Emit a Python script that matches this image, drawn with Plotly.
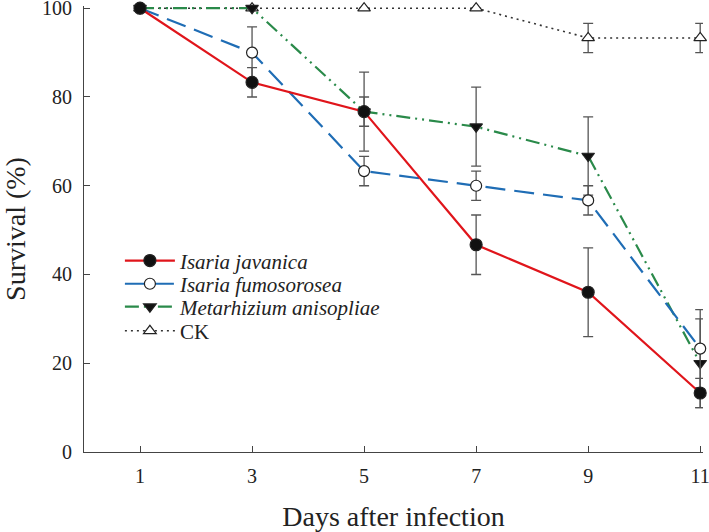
import plotly.graph_objects as go

days = [1, 3, 5, 7, 9, 11]
tick_vals = [1, 3, 5, 7, 9, 11]
y_ticks = [0, 20, 40, 60, 80, 100]

javanica = [100, 83.3, 76.7, 46.7, 36.0, 13.3]
javanica_err = [0, 3.3, 8.9, 6.7, 10.0, 3.3]
fumosorosea = [100, 90.0, 63.3, 60.0, 56.7, 23.3]
fumosorosea_err = [0, 5.8, 3.3, 3.3, 3.3, 8.8]
metarhizium = [100, 100, 76.7, 73.3, 66.7, 20.0]
metarhizium_err = [0, 0, 3.3, 8.9, 8.8, 10.0]
ck = [100, 100, 100, 100, 93.3, 93.3]
ck_err = [0, 0, 0, 0, 3.3, 3.3]

names = ["<i>Isaria javanica</i>", "<i>Isaria fumosorosea</i>",
         "<i>Metarhizium anisopliae</i>", "CK"]

FONT = "Liberation Serif, Times New Roman, serif"
ERR_COLOR = "#555555"

fig = go.Figure()

def add(y, err, name, color, dash, symbol, mcolor, width, size, legend):
    fig.add_trace(go.Scatter(
        x=days, y=y, name=name, mode="lines+markers", legend=legend,
        line=dict(color=color, dash=dash, width=width),
        marker=dict(symbol=symbol, size=size, color=mcolor,
                    line=dict(color="#222222", width=1.2)),
        error_y=dict(type="data", array=err, visible=True,
                     color=ERR_COLOR, thickness=1.3, width=5),
        cliponaxis=False,
    ))

add(ck, ck_err, names[3], "#333333", "2px,4px", "triangle-up", "white",
    1.6, 11, "legend4")
add(metarhizium, metarhizium_err, names[2], "#2a8a4a",
    "14px,5px,2px,5px,2px,5px", "triangle-down", "#111111", 2.2, 11,
    "legend3")
add(fumosorosea, fumosorosea_err, names[1], "#1f6db5", "20px,9px",
    "circle", "white", 2.2, 11, "legend2")
add(javanica, javanica_err, names[0], "#e0151b", "solid",
    "circle", "#111111", 2.2, 12, "legend")

def leg(yc):
    return dict(x=0.058, y=yc, xanchor="left", yanchor="middle",
                bgcolor="rgba(0,0,0,0)", font=dict(family=FONT, size=21),
                itemwidth=50)

fig.update_layout(
    width=709, height=532,
    margin=dict(l=84, r=6, t=6, b=80, autoexpand=False),
    plot_bgcolor="white", paper_bgcolor="white",
    font=dict(family=FONT, size=20, color="#222222"),
    showlegend=True,
    legend=leg(0.4285), legend2=leg(0.3765), legend3=leg(0.325),
    legend4=leg(0.271),
    xaxis=dict(range=[0, 11.05], tickvals=tick_vals, ticks="inside",
               ticklen=6, tickcolor="#444444", showline=True,
               linecolor="#444444", linewidth=1.2, showgrid=False,
               zeroline=False, tickfont=dict(size=20), automargin=False,
               ticklabeloverflow="allow", ticklabelstandoff=6,
               title=dict(text="Days after infection", font=dict(size=28),
                          standoff=25)),
    yaxis=dict(range=[0, 100.5], tickvals=y_ticks, ticks="inside",
               ticklen=6, tickcolor="#444444", showline=True,
               linecolor="#444444", linewidth=1.2, showgrid=False,
               zeroline=False, tickfont=dict(size=20), automargin=False,
               ticklabeloverflow="allow", ticklabelstandoff=7,
               title=dict(text="Survival (%)", font=dict(size=28),
                          standoff=21)),
)

fig.write_html(
    "out.html",
    config={"displayModeBar": False},
    post_script="document.body.style.margin='0';"
                "document.body.style.overflow='hidden';",
)
